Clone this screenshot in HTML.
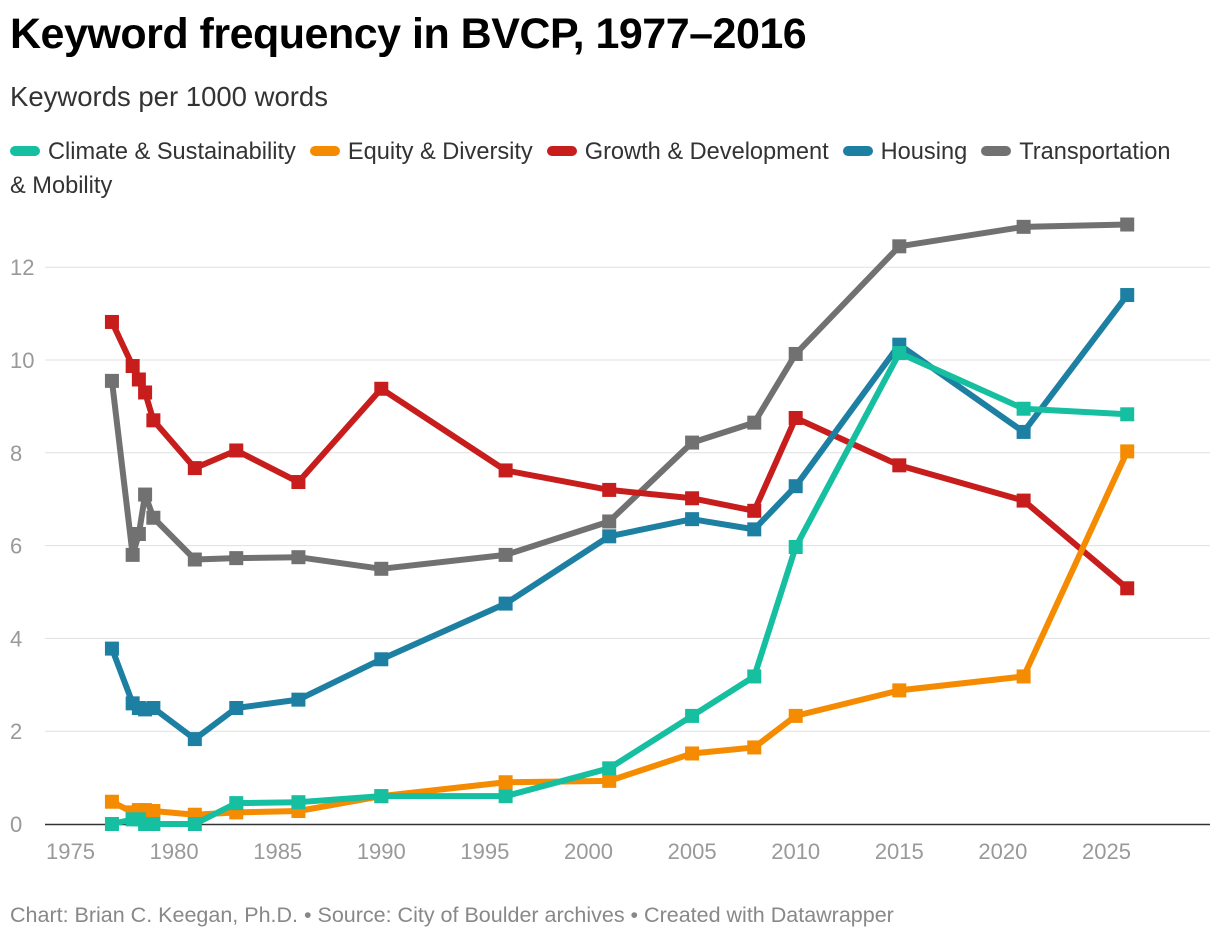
<!DOCTYPE html>
<html><head><meta charset="utf-8"><style>
body{margin:0;background:#fff;font-family:"Liberation Sans",sans-serif;width:1220px;height:942px;overflow:hidden;position:relative}
.t{position:absolute;left:10px;top:10px;font-size:43px;font-weight:bold;color:#000;letter-spacing:-0.5px}
.s{position:absolute;left:10px;top:81px;font-size:27.5px;color:#333}
.lg{position:absolute;left:10px;top:135px;width:1205px;font-size:23.6px;color:#333;line-height:34px}
.li{display:inline-block;margin-right:14px;white-space:nowrap}
.sw{display:inline-block;width:30px;height:10px;border-radius:5px;margin-right:8px;vertical-align:middle;position:relative;top:-2px}
.f{position:absolute;left:10px;top:903px;font-size:21.5px;color:#888}
</style></head><body>
<div class="t">Keyword frequency in BVCP, 1977–2016</div>
<div class="s">Keywords per 1000 words</div>
<div class="lg">
<span class="li"><span class="sw" style="background:#15bfa0"></span>Climate &amp; Sustainability</span><span class="li"><span class="sw" style="background:#f58b00"></span>Equity &amp; Diversity</span><span class="li"><span class="sw" style="background:#c71e1d"></span>Growth &amp; Development</span><span class="li"><span class="sw" style="background:#1d7fa2"></span>Housing</span><span><span class="sw" style="background:#717171"></span>Transportation<br>&amp; Mobility</span>
</div>
<svg id="c" width="1220" height="942" style="position:absolute;left:0;top:0"></svg>
<div class="f">Chart: Brian C. Keegan, Ph.D. • Source: City of Boulder archives • Created with Datawrapper</div>
<script>
const years=[1977,1978,1978.3,1978.6,1979,1981,1983,1986,1990,1996,2001,2005,2008,2010,2015,2021,2026];
const climate=[0,0.1,0.1,0,0,0,0.45,0.47,0.6,0.6,1.2,2.33,3.18,5.97,10.15,8.95,8.83];
const equity=[0.48,0.25,0.3,0.3,0.28,0.2,0.25,0.28,0.6,0.9,0.93,1.52,1.65,2.33,2.88,3.18,8.03];
const growth=[10.82,9.87,9.58,9.3,8.7,7.67,8.05,7.37,9.38,7.62,7.2,7.02,6.75,8.75,7.73,6.97,5.08];
const housing=[3.78,2.6,2.5,2.47,2.5,1.83,2.5,2.68,3.55,4.75,6.2,6.57,6.35,7.28,10.33,8.45,11.4];
const transport=[9.55,5.8,6.25,7.1,6.6,5.7,5.73,5.75,5.5,5.8,6.52,8.22,8.65,10.13,12.45,12.87,12.92];
const yTicks=[0,2,4,6,8,10,12];
const xTicks=[1975,1980,1985,1990,1995,2000,2005,2010,2015,2020,2025];
const NS="http://www.w3.org/2000/svg",svg=document.getElementById('c');
const X=v=>70.5+(v-1975)*20.72, Y=v=>824-v*46.4;
function mk(t,a){const e=document.createElementNS(NS,t);for(const k in a)e.setAttribute(k,a[k]);svg.appendChild(e);return e;}
yTicks.forEach(v=>{
 if(v>0){const l=mk('line',{x1:45,x2:1210,y1:Y(v),y2:Y(v),stroke:'#e0e0e0','stroke-width':1});
 
 }
 const t=mk('text',{x:10,y:Y(v)+8,'font-size':22,fill:'#999','font-family':'Liberation Sans, sans-serif'});t.textContent=v;
 
 
});
const ax=mk('line',{x1:45,x2:1210,y1:Y(0)+0.5,y2:Y(0)+0.5,stroke:'#333','stroke-width':1.5});


xTicks.forEach(v=>{
 const t=mk('text',{x:X(v),y:859,'font-size':22,fill:'#999','text-anchor':'middle','font-family':'Liberation Sans, sans-serif'});t.textContent=v;
 
 
});
[[transport,'#717171','transportation'],[growth,'#c71e1d','growth'],[housing,'#1d7fa2','housing'],[equity,'#f58b00','equity'],[climate,'#15bfa0','climate']].forEach(([d,c,n])=>{
 const p=mk('polyline',{points:years.map((y,i)=>X(y)+','+Y(d[i])).join(' '),fill:'none',stroke:c,'stroke-width':6,'stroke-linejoin':'round'});
 
 
 years.forEach((y,i)=>{
  const r=mk('rect',{x:X(y)-7,y:Y(d[i])-7,width:14,height:14,fill:c});
  
  
 });
});
</script>
</body></html>
